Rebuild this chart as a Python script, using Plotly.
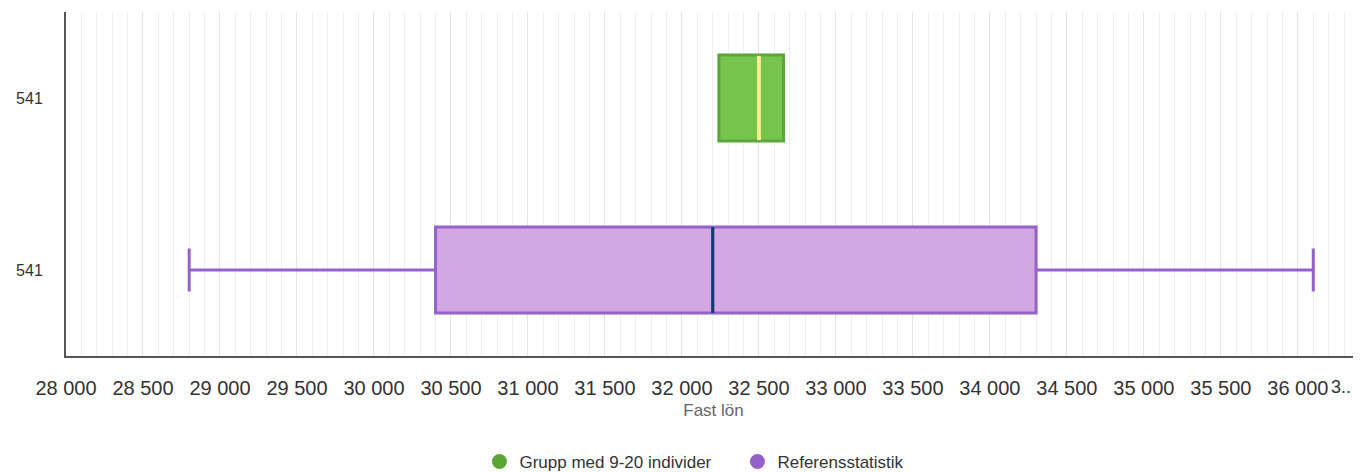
import plotly.graph_objects as go

# Data
categories = ["541", "541"]
series_names = ["Grupp med 9-20 individer", "Referensstatistik"]
green_stats = dict(q1=32240, median=32500, q3=32660, lowerfence=32240, upperfence=32660)
purple_stats = dict(q1=30400, median=32200, q3=34300, lowerfence=28800, upperfence=36100)
x_range = [28000, 36410]

green_fill = "#76c44c"
green_line = "#5ba63a"
green_median = "#f9ef90"
purple_fill = "#d3a7e1"
purple_line = "#9462c8"
purple_median = "#0b3c78"

fig = go.Figure()

# Reference statistics box (bottom row, y=0)
fig.add_trace(go.Box(
    y=[0], orientation="h",
    q1=[purple_stats["q1"]], median=[purple_stats["median"]], q3=[purple_stats["q3"]],
    lowerfence=[purple_stats["lowerfence"]], upperfence=[purple_stats["upperfence"]],
    width=0.5, whiskerwidth=0.5,
    fillcolor=purple_fill, line=dict(color=purple_line, width=3),
    boxpoints=False, showlegend=False, hoverinfo="skip",
))
# Group box (top row, y=1)
fig.add_trace(go.Box(
    y=[1], orientation="h",
    q1=[green_stats["q1"]], median=[green_stats["median"]], q3=[green_stats["q3"]],
    lowerfence=[green_stats["lowerfence"]], upperfence=[green_stats["upperfence"]],
    width=0.5, whiskerwidth=0,
    fillcolor=green_fill, line=dict(color=green_line, width=3),
    boxpoints=False, showlegend=False, hoverinfo="skip",
))

# Median overlays
fig.add_trace(go.Scatter(
    x=[purple_stats["median"], purple_stats["median"]], y=[0 - 0.25, 0 + 0.25],
    mode="lines", line=dict(color=purple_median, width=3),
    showlegend=False, hoverinfo="skip",
))
fig.add_trace(go.Scatter(
    x=[green_stats["median"], green_stats["median"]], y=[1 - 0.245, 1 + 0.245],
    mode="lines", line=dict(color=green_median, width=4),
    showlegend=False, hoverinfo="skip",
))

# Legend entries
fig.add_trace(go.Scatter(x=[None], y=[None], mode="markers", name=series_names[0],
                         marker=dict(color="#5ba532", size=15, symbol="circle")))
fig.add_trace(go.Scatter(x=[None], y=[None], mode="markers", name=series_names[1],
                         marker=dict(color="#9461c9", size=15, symbol="circle")))

# The page body has an 8px margin, so the figure is sized to end at the window edge.
fig.update_layout(
    width=1353, height=464,
    margin=dict(l=58, r=0, t=4, b=116),
    paper_bgcolor="white", plot_bgcolor="white",
    font=dict(family="Liberation Sans, Arial, sans-serif", color="#333333"),
    separators=", ",
    showlegend=True,
    legend=dict(orientation="h", x=0.5185, xanchor="center",
                yref="container", y=0.0216, yanchor="middle",
                entrywidth=213,
                font=dict(size=17, color="#333333"), itemclick=False),
    xaxis=dict(
        range=x_range, tick0=28000, dtick=500, tickformat=",d",
        showgrid=True, gridcolor="#e4e4e4", gridwidth=1,
        minor=dict(dtick=100, showgrid=True, gridcolor="#f0f0f0", gridwidth=1),
        showline=True, linecolor="#555555", linewidth=2,
        ticks="", ticklabelstandoff=13,
        tickfont=dict(size=20, color="#333333"),
        zeroline=False, automargin=False,
        title=dict(text="Fast lön", font=dict(size=17, color="#666666"), standoff=6),
    ),
    yaxis=dict(
        range=[-0.5, 1.5], tickvals=[0, 1], ticktext=[categories[1], categories[0]],
        showgrid=False, zeroline=False, automargin=False,
        showline=True, linecolor="#555555", linewidth=2,
        ticks="", ticklabelstandoff=18,
        tickfont=dict(size=16, color="#333333"),
    ),
    annotations=[dict(text="3..", xref="paper", yref="paper", x=1.0, y=0, xanchor="right",
                      yanchor="top", yshift=-20, xshift=-9, showarrow=False, borderpad=0,
                      font=dict(size=18, color="#333333"))],
)

fig.write_html("out.html")
